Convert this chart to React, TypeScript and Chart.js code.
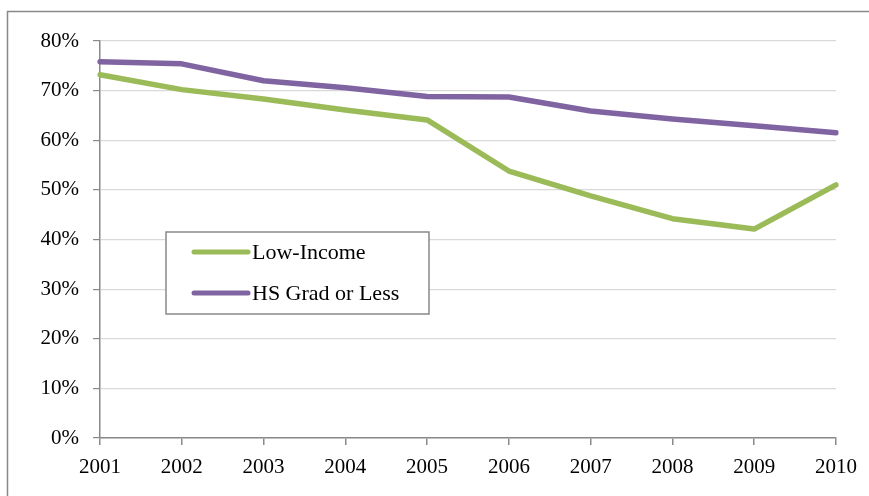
import React, { useEffect, useRef } from "react";
import { Chart, registerables } from "chart.js";

Chart.register(...registerables);

const years = ["2001", "2002", "2003", "2004", "2005", "2006", "2007", "2008", "2009", "2010"];
const lowIncome = [73.2, 70.2, 68.3, 66.1, 64.1, 53.8, 48.8, 44.2, 42.1, 51.0];
const hsGradOrLess = [75.8, 75.4, 72.0, 70.6, 68.8, 68.7, 65.9, 64.3, 62.9, 61.5];
const seriesLabels = ["Low-Income", "HS Grad or Less"];
const seriesColors = ["#9BBB59", "#8064A2"];

const FONT = "'Liberation Serif', 'DejaVu Serif', serif";
const AXIS = "#898989";

const framePlugin = {
  id: "frame",
  beforeDraw(chart: any) {
    const ctx = chart.ctx;
    ctx.save();
    ctx.fillStyle = "#ffffff";
    ctx.fillRect(0, 0, chart.width, chart.height);
    ctx.strokeStyle = AXIS;
    ctx.lineWidth = 1.5;
    ctx.strokeRect(7.5, 11.5, chart.width + 20, chart.height + 20);
    ctx.restore();
  },
};

const boxLegendPlugin = {
  id: "boxLegend",
  afterDraw(chart: any) {
    const ctx = chart.ctx;
    const a = chart.chartArea;
    const x = a.left + 66;
    const y = a.top + 191;
    const w = 263;
    const h = 82;
    ctx.save();
    ctx.fillStyle = "#ffffff";
    ctx.fillRect(x, y, w, h);
    ctx.strokeStyle = AXIS;
    ctx.lineWidth = 1.5;
    ctx.strokeRect(x, y, w, h);
    ctx.font = `22px ${FONT}`;
    ctx.textBaseline = "middle";
    chart.data.datasets.forEach((ds: any, i: number) => {
      const ly = y + 20 + i * 41;
      ctx.strokeStyle = ds.borderColor;
      ctx.lineWidth = 5;
      ctx.lineCap = "round";
      ctx.beginPath();
      ctx.moveTo(x + 28, ly);
      ctx.lineTo(x + 82, ly);
      ctx.stroke();
      ctx.fillStyle = "#000000";
      ctx.fillText(ds.label, x + 86, ly + 1);
    });
    ctx.restore();
  },
};

export default function App() {
  const ref = useRef<HTMLCanvasElement | null>(null);
  useEffect(() => {
    if (!ref.current) return;
    const chart = new Chart(ref.current, {
      type: "line",
      data: {
        labels: years,
        datasets: [
          {
            label: seriesLabels[0],
            data: lowIncome,
            borderColor: seriesColors[0],
            backgroundColor: seriesColors[0],
            borderWidth: 5.5,
            pointRadius: 0,
            tension: 0,
            borderJoinStyle: "round",
            borderCapStyle: "round",
          },
          {
            label: seriesLabels[1],
            data: hsGradOrLess,
            borderColor: seriesColors[1],
            backgroundColor: seriesColors[1],
            borderWidth: 5.5,
            pointRadius: 0,
            tension: 0,
            borderJoinStyle: "round",
            borderCapStyle: "round",
          },
        ],
      },
      options: {
        animation: false,
        responsive: false,
        devicePixelRatio: 1,
        layout: { padding: { left: 0, right: 33, top: 41, bottom: 0 } },
        plugins: { legend: { display: false }, tooltip: { enabled: false } },
        scales: {
          x: {
            offset: false,
            grid: { drawOnChartArea: false, drawTicks: true, tickLength: 7, tickColor: AXIS, lineWidth: 1.5 },
            border: { color: AXIS, width: 1.5 },
            ticks: { color: "#000", font: { family: FONT, size: 21 }, padding: 10, maxRotation: 0 },
            afterFit: (s: any) => { s.height = 58; },
          },
          y: {
            min: 0,
            max: 80,
            grid: { color: "#d9d9d9", lineWidth: 1.2, tickColor: AXIS, tickLength: 7 },
            border: { color: AXIS, width: 1.5 },
            ticks: {
              stepSize: 10,
              color: "#000",
              font: { family: FONT, size: 21 },
              padding: 14,
              callback: (v: any) => `${v}%`,
            },
            afterFit: (s: any) => { s.width = 100; },
          },
        },
      },
      plugins: [framePlugin, boxLegendPlugin],
    });
    return () => chart.destroy();
  }, []);
  return (
    <div style={{ position: "fixed", left: 0, top: 0, width: 869, height: 496, background: "#fff" }}>
      <canvas ref={ref} width={869} height={496} style={{ display: "block", width: 869, height: 496 }} />
    </div>
  );
}
